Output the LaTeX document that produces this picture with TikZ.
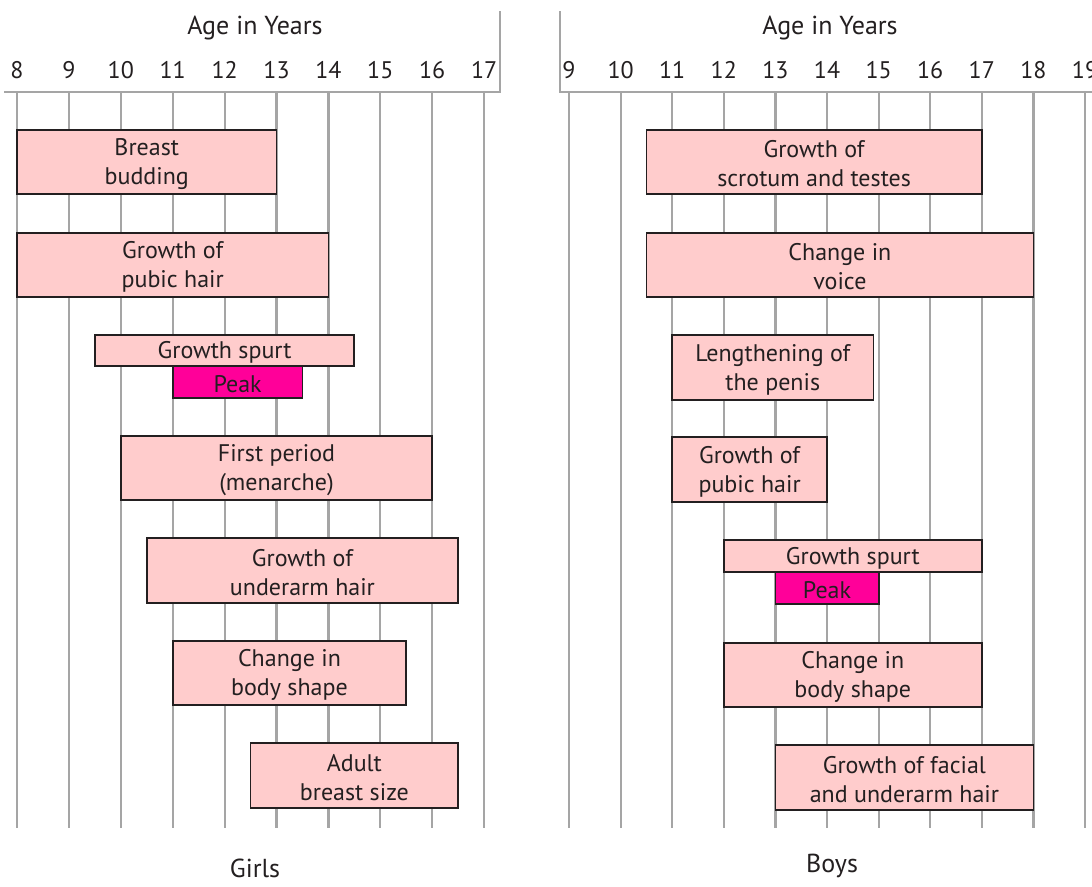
\documentclass[tikz,border=0pt]{standalone}
\usepackage{fontspec}
\setmainfont{PT Sans}
\usetikzlibrary{fit}
\definecolor{barpink}{RGB}{255,204,204}
\definecolor{peakpink}{RGB}{255,0,153}
\definecolor{gridgray}{RGB}{165,165,165}
\definecolor{ink}{RGB}{35,31,32}
\begin{document}
\begin{tikzpicture}[x=1pt,y=-1pt,
  declare function={lx(\t)=17+51.9*(\t-8); rx(\t)=569+51.6*(\t-9);},
  gridline/.style={gridgray, line width=2.2pt},
  frameline/.style={gridgray, line width=1.6pt},
  txt/.style={font=\fontsize{24}{29}\selectfont, text=ink, inner sep=0pt, align=center},
  bartxt/.style={txt, yshift=-2pt},
  bigtxt/.style={txt, font=\fontsize{26}{30}\selectfont},
  barbox/.style={draw=ink, fill=barpink, line width=1.8pt, inner sep=0pt},
  peakbox/.style={barbox, fill=peakpink}]
\useasboundingbox (0,0) rectangle (1092,886);
% ---------- Girls axis ----------
\foreach \t in {8,...,17}{
  \draw[gridline] ({lx(\t)},92) -- ({lx(\t)},828);
  \node[txt] (gl\t) at ({lx(\t)},70) {\t};
}
\draw[frameline] (4,92) -- (500,92) -- (500,11);
\node[bigtxt] (gtitle) at (255,28) {Age in Years};
\node[bigtxt] (girls) at (255,868) {Girls};
% ---------- Boys axis ----------
\foreach \t in {9,...,19}{
  \draw[gridline] ({rx(\t)},92) -- ({rx(\t)},828);
  \node[txt] (bl\t) at ({rx(\t)},70) {\t};
}
\draw[frameline] (560,11) -- (560,92) -- (1092,92);
\node[bigtxt] (btitle) at (830,28) {Age in Years};
\node[bigtxt] (boys) at (832,866) {Boys};
% ---------- Girls bars ----------
\node[barbox, fit={({lx(8)},130) ({lx(13)},194)}] (g1) {};
\node[bartxt] (g1t) at (g1.center) {Breast\\budding};
\node[barbox, fit={({lx(8)},233) ({lx(14)},297)}] (g2) {};
\node[bartxt] (g2t) at (g2.center) {Growth of\\pubic hair};
\node[barbox, fit={({lx(9.5)},335) ({lx(14.5)},366)}] (g3) {};
\node[bartxt] (g3t) at (g3.center) {Growth spurt};
\node[peakbox, fit={({lx(11)},366) ({lx(13.5)},398)}] (g3p) {};
\node[bartxt] (g3pt) at (g3p.center) {Peak};
\node[barbox, fit={({lx(10)},436) ({lx(16)},500)}] (g4) {};
\node[bartxt] (g4t) at (g4.center) {First period\\(menarche)};
\node[barbox, fit={({lx(10.5)},538) ({lx(16.5)},603)}] (g5) {};
\node[bartxt] (g5t) at (g5.center) {Growth of\\underarm hair};
\node[barbox, fit={({lx(11)},641) ({lx(15.5)},705)}] (g6) {};
\node[bartxt] (g6t) at (g6.center) {Change in\\body shape};
\node[barbox, fit={({lx(12.5)},743) ({lx(16.5)},808)}] (g7) {};
\node[bartxt] (g7t) at (g7.center) {Adult\\breast size};
% ---------- Boys bars ----------
\node[barbox, fit={({rx(10.5)},130) ({rx(17)},194)}] (b1) {};
\node[bartxt] (b1t) at (b1.center) {Growth of\\scrotum and testes};
\node[barbox, fit={({rx(10.5)},233) ({rx(18)},297)}] (b2) {};
\node[bartxt] (b2t) at (b2.center) {Change in\\voice};
\node[barbox, fit={({rx(11)},335) ({rx(14.9)},400)}] (b3) {};
\node[bartxt] (b3t) at (b3.center) {Lengthening of\\the penis};
\node[barbox, fit={({rx(11)},437) ({rx(14)},502)}] (b4) {};
\node[bartxt] (b4t) at (b4.center) {Growth of\\pubic hair};
\node[barbox, fit={({rx(12)},540) ({rx(17)},572)}] (b5) {};
\node[bartxt] (b5t) at (b5.center) {Growth spurt};
\node[peakbox, fit={({rx(13)},572) ({rx(15)},604)}] (b5p) {};
\node[bartxt] (b5pt) at (b5p.center) {Peak};
\node[barbox, fit={({rx(12)},643) ({rx(17)},707)}] (b6) {};
\node[bartxt] (b6t) at (b6.center) {Change in\\body shape};
\node[barbox, fit={({rx(13)},745) ({rx(18)},810)}] (b7) {};
\node[bartxt] (b7t) at (b7.center) {Growth of facial\\and underarm hair};
\end{tikzpicture}
\end{document}
